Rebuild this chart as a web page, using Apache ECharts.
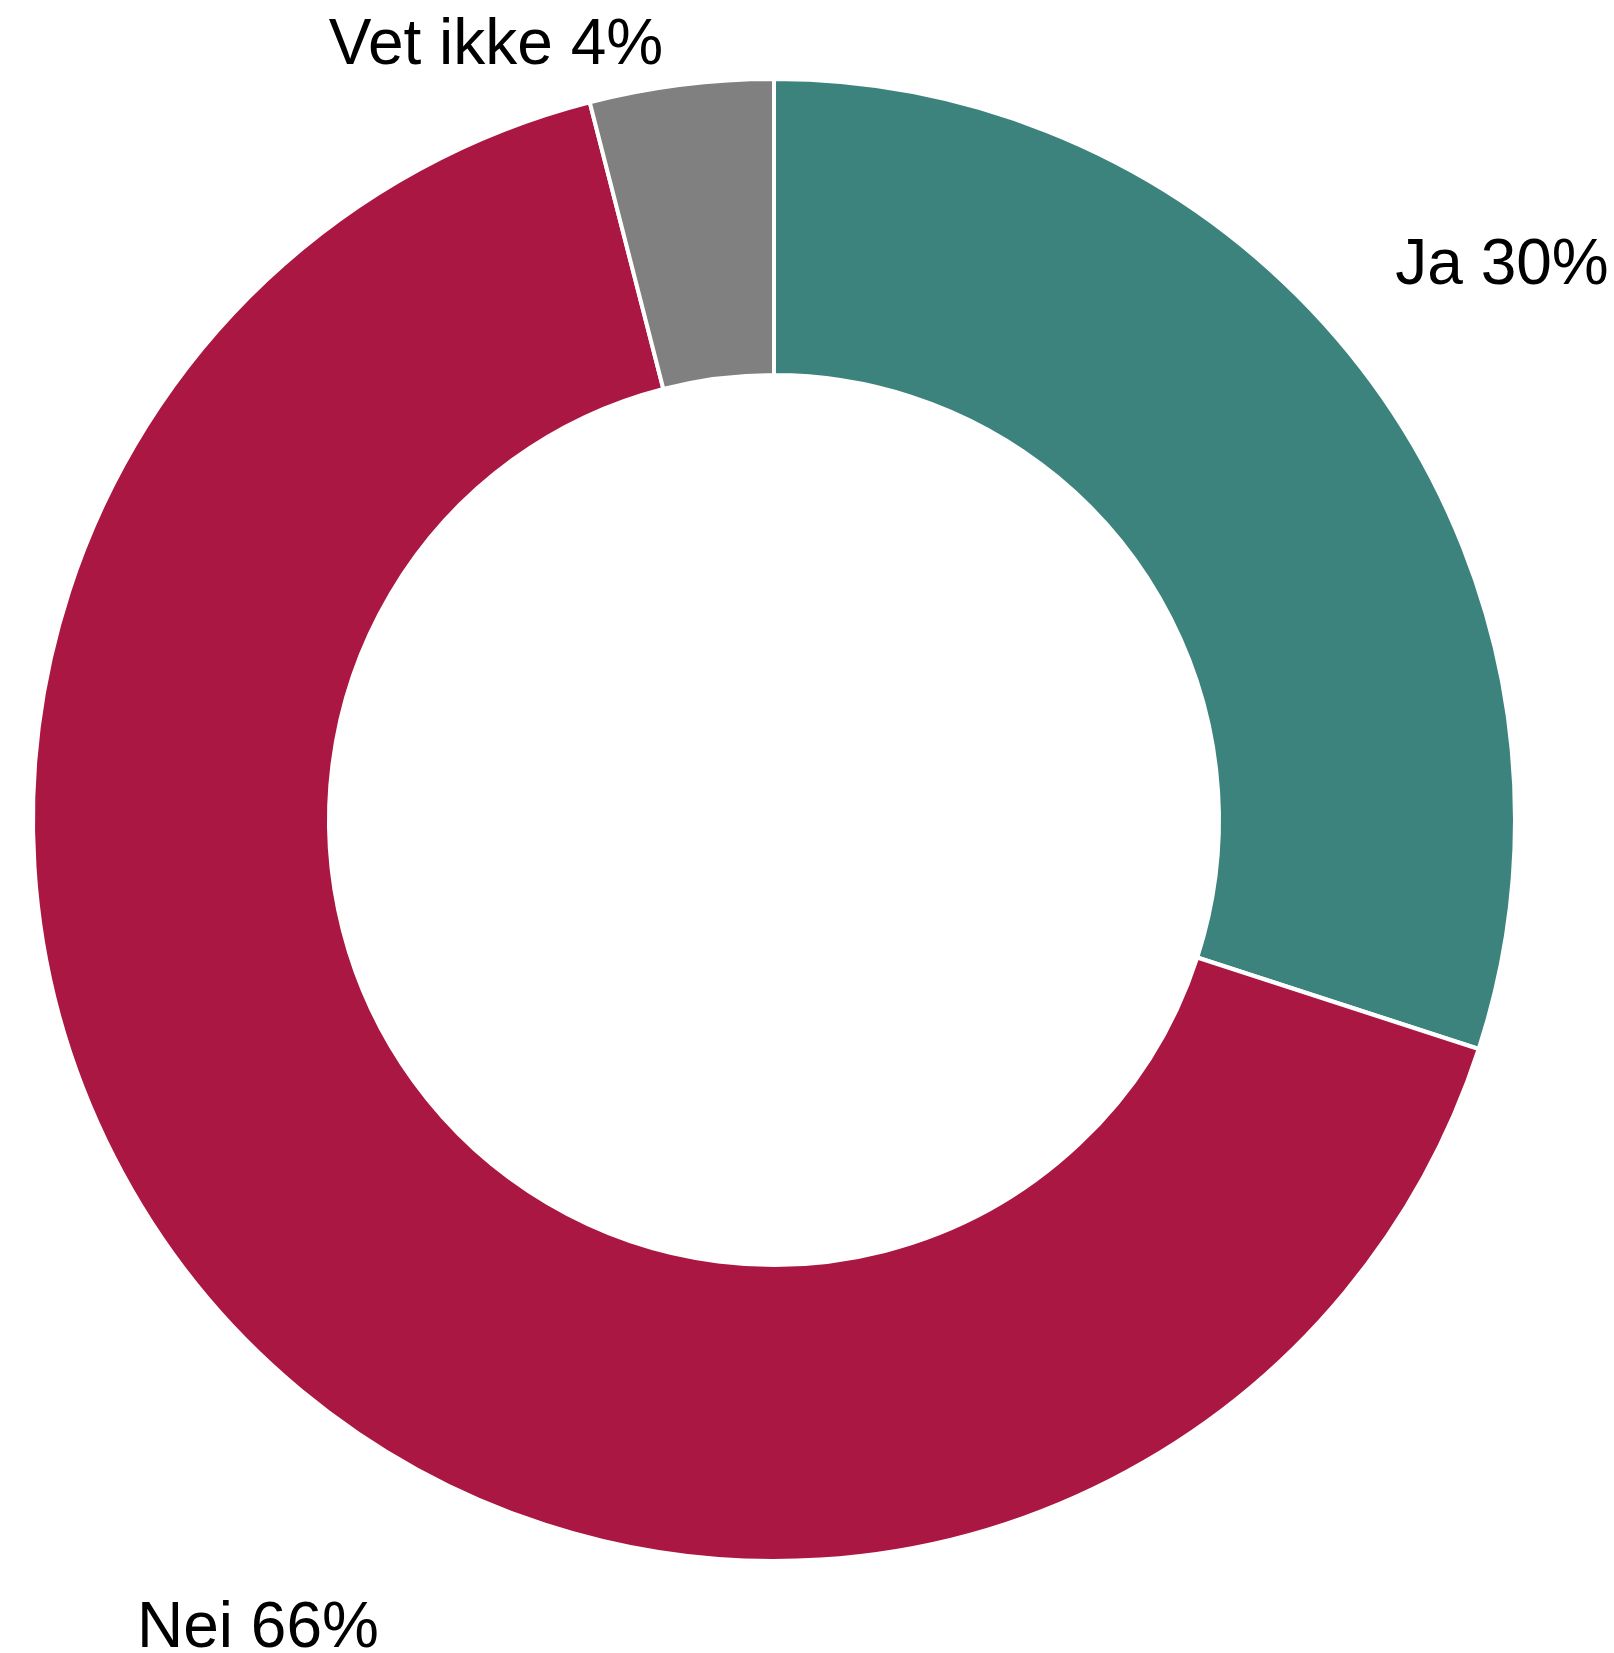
<!DOCTYPE html>
<html>
<head>
<meta charset="utf-8">
<script src="https://cdn.jsdelivr.net/npm/echarts@6/dist/echarts.min.js"></script>
<style>
html,body{margin:0;padding:0;background:#fff;}
#chart{width:1614px;height:1653px;}
</style>
</head>
<body>
<div id="chart"></div>
<script>
// Data
var categories = ['Ja', 'Nei', 'Vet ikke'];
var values = [30, 66, 4];
var colors = ['#3D837D', '#AB1743', '#808080'];

// Label anchor points (layout only, text-centre in px)
var labelAnchors = [[1502, 266], [258, 1629], [496, 46]];

var chart = echarts.init(document.getElementById('chart'), null, {renderer: 'canvas'});
chart.setOption({
  backgroundColor: '#ffffff',
  animation: false,
  series: [{
    type: 'pie',
    center: [774, 820],
    radius: [445, 741],
    startAngle: 90,
    clockwise: true,
    avoidLabelOverlap: false,
    itemStyle: {borderColor: '#ffffff', borderWidth: 4},
    label: {
      show: true,
      position: 'outside',
      formatter: function (p) { return p.name + ' ' + p.value + '%'; },
      fontFamily: 'Liberation Sans, Arial, sans-serif',
      fontSize: 64,
      color: '#000000'
    },
    labelLine: {show: false},
    labelLayout: function (params) {
      var a = labelAnchors[params.dataIndex];
      return {x: a[0], y: a[1], align: 'center', verticalAlign: 'middle'};
    },
    emphasis: {disabled: true},
    data: categories.map(function (c, i) {
      return {name: c, value: values[i], itemStyle: {color: colors[i]}};
    })
  }]
});
</script>
</body>
</html>
